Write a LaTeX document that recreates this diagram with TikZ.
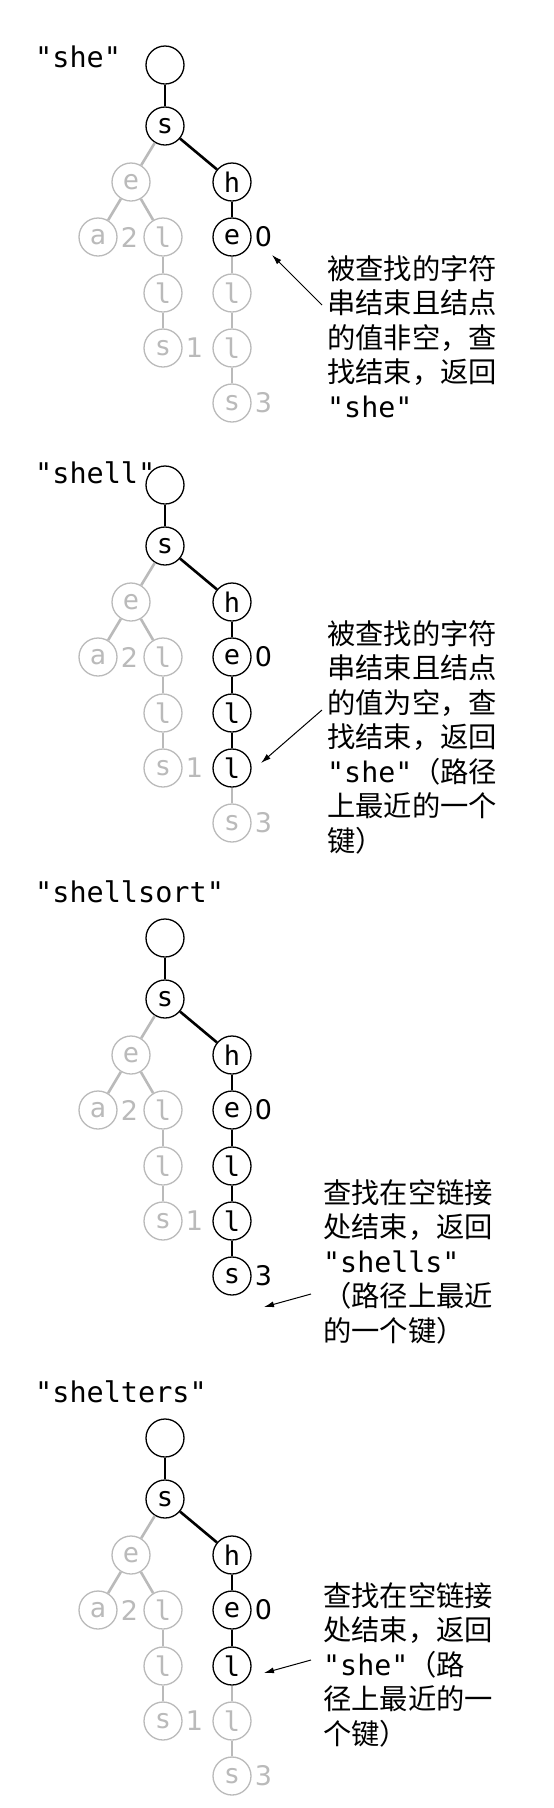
\documentclass[tikz,border=0pt]{standalone}
\usepackage{fontspec}
\setsansfont{DejaVu Sans}
\setmonofont{DejaVu Sans Mono}
\newfontfamily\cjk{Noto Sans CJK SC}
\usetikzlibrary{arrows.meta, positioning}
\definecolor{faded}{gray}{0.73}

\tikzset{
  pick/.code={\ifnum#1>\pathdepth\relax\pgfkeysalso{color=faded}\else\pgfkeysalso{color=black}\fi},
  tn/.style={circle, draw, fill=white, line width=1.3pt, minimum size=38pt, inner sep=0pt, font=\ttfamily\fontsize{27}{30}\selectfont},
  te/.style={line width=2.6pt},
  tv/.style={font=\sffamily\fontsize{27}{30}\selectfont, inner sep=0pt},
  ttl/.style={font=\ttfamily\fontsize{28.5}{30}\selectfont, inner sep=0pt, anchor=base west},
  note/.style={font=\cjk\fontsize{28.3}{34.5}\selectfont, align=left, inner sep=0pt, anchor=north west},
  a/.style={-{Latex[length=10pt,width=6pt]}, line width=1pt},
}

% one trie: #1 name prefix, #2 y of the root, #3 depth the search gets to
\newcommand{\trie}[3]{%
\def\pathdepth{#3}%
\begin{scope}[shift={(0,#2)}]
\node[pick=0, tn] (#1r) at (165,0) {};
\node[pick=1, tn] (#1s) at (165,61) {s};
\node[pick=2, tn] (#1h) at (232,117) {h};
\node[pick=3, tn] (#1e) at (232,172) {e};
\node[pick=4, tn] (#1l) at (232,228) {l};
\node[pick=5, tn] (#1ll) at (232,283) {l};
\node[pick=6, tn] (#1ls) at (232,338) {s};
\node[faded, tn] (#1se) at (131,117) {e};
\node[faded, tn] (#1sa) at (98,172) {a};
\node[faded, tn] (#1sl) at (163,172) {l};
\node[faded, tn] (#1sll) at (163,228) {l};
\node[faded, tn] (#1sls) at (163,283) {s};
\draw[te, pick=1] (#1r) -- (#1s);
\draw[te, pick=2] (#1s) -- (#1h);
\draw[te, pick=3] (#1h) -- (#1e);
\draw[te, pick=4] (#1e) -- (#1l);
\draw[te, pick=5] (#1l) -- (#1ll);
\draw[te, pick=6] (#1ll) -- (#1ls);
\draw[te, faded] (#1s) -- (#1se);
\draw[te, faded] (#1se) -- (#1sa);
\draw[te, faded] (#1se) -- (#1sl);
\draw[te, faded] (#1sl) -- (#1sll);
\draw[te, faded] (#1sll) -- (#1sls);
\node[tv, pick=3, right=3pt of #1e] (#1v0) {0};
\node[tv, pick=6, right=3pt of #1ls] (#1v3) {3};
\node[tv, faded, right=3pt of #1sa] (#1v2) {2};
\node[tv, faded, right=3pt of #1sls] (#1v1) {1};
\end{scope}}

\begin{document}
\begin{tikzpicture}[x=1pt, y=-1pt]
\useasboundingbox (0,0) rectangle (554,1808);

% "she": value found
\trie{a}{65}{3}
\node[ttl] (aname) at (35,67) {"she"};
\node[note] (anote) at (327,255) {被查找的字符\\串结束且结点\\的值非空，查\\找结束，返回\\\texttt{"she"}};
\coordinate (atail) at (322,305);
\coordinate (atip) at (272,255);
\draw[a] (atail) -- (atip);

% "shell": ends on a null value
\trie{b}{485}{5}
\node[ttl] (bname) at (35,483) {"shell"};
\node[note] (bnote) at (327,620) {被查找的字符\\串结束且结点\\的值为空，查\\找结束，返回\\\texttt{"she"}（路径\\上最近的一个\\键）};
\coordinate (btail) at (322,710);
\coordinate (btip) at (261,763);
\draw[a] (btail) -- (btip);

% "shellsort": runs off a null link
\trie{c}{938}{6}
\node[ttl] (cname) at (35,902) {"shellsort"};
\node[note] (cnote) at (323,1179) {查找在空链接\\处结束，返回\\\texttt{"shells"}\\（路径上最近\\的一个键）};
\coordinate (ctail) at (311,1294);
\coordinate (ctip) at (264,1307);
\draw[a] (ctail) -- (ctip);

% "shelters"
\trie{d}{1438}{4}
\node[ttl] (dname) at (35,1402) {"shelters"};
\node[note] (dnote) at (323,1582) {查找在空链接\\处结束，返回\\\texttt{"she"}（路\\径上最近的一\\个键）};
\coordinate (dtail) at (311,1660);
\coordinate (dtip) at (264,1673);
\draw[a] (dtail) -- (dtip);
\end{tikzpicture}
\end{document}
